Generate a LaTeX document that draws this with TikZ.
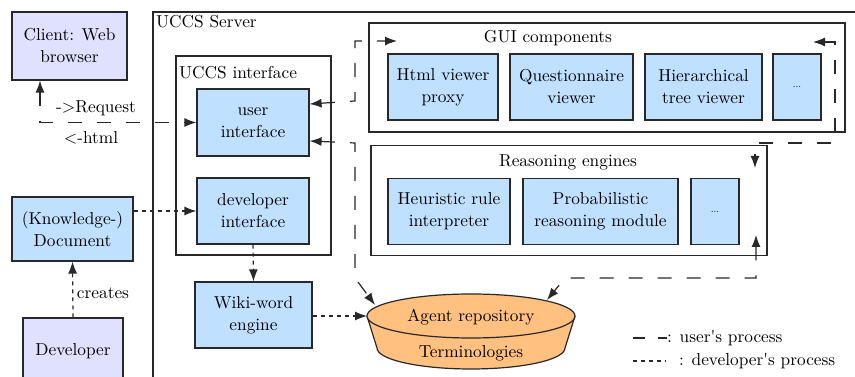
\documentclass[tikz,border=0pt]{standalone}
\usepackage{fontspec}
\newfontfamily\lmten{lmroman10-regular.otf}
\usetikzlibrary{arrows.meta,calc}
\definecolor{lav}{RGB}{224,224,255}
\definecolor{lblue}{RGB}{192,224,255}
\definecolor{orng}{RGB}{255,192,128}
\definecolor{ink}{RGB}{40,40,40}
\begin{document}
\begin{tikzpicture}[x=1pt,y=1pt,
  font={\lmten\fontsize{17.3}{22}\selectfont},
  >={Latex[length=12pt,width=9pt]},
  box/.style={draw=ink, line width=1.2pt, align=center, inner sep=0pt},
  bluebox/.style={box, fill=lblue},
  lavbox/.style={box, fill=lav},
  frame/.style={draw=ink, line width=1.2pt, inner sep=0pt},
  lbl/.style={inner sep=0pt},
  dotstext/.style={font={\lmten\fontsize{10}{12}\selectfont}},
  userflow/.style={draw=ink, line width=1.2pt, dash pattern=on 14pt off 15pt},
  devflow/.style={draw=ink, line width=1.2pt, dash pattern=on 4pt off 4pt},
  plain/.style={draw=ink, line width=1.2pt}
]
\useasboundingbox (0,0) rectangle (855,377);
\clip (0,0) rectangle (855,377);
\fill[white] (0,0) rectangle (855,377);

% containers
\node[frame, minimum width=727pt, minimum height=385pt] (server) at (516.5,172.5) {};
\node[lbl, anchor=west] (serverlbl) at (156,355) {UCCS Server};
\node[frame, minimum width=155pt, minimum height=199pt] (uif) at (253.5,221.5) {};
\node[lbl, anchor=west] (uiflbl) at (179,304) {UCCS interface};
\node[frame, minimum width=476pt, minimum height=109pt] (gui) at (607,299.5) {};
\node[lbl] (guilbl) at (548,339) {GUI components};
\node[frame, minimum width=396pt, minimum height=110pt] (reason) at (569,176.5) {};
\node[lbl] (reasonlbl) at (568,215) {Reasoning engines};

% boxes
\node[lavbox, minimum width=115pt, minimum height=68pt] (client) at (69.5,331) {Client: Web\\browser};
\node[bluebox, minimum width=112pt, minimum height=67pt] (ui) at (253,254.5) {user\\interface};
\node[bluebox, minimum width=112pt, minimum height=66pt] (di) at (253,166) {developer\\interface};
\node[bluebox, minimum width=117pt, minimum height=66pt] (wiki) at (253.5,62) {Wiki-word\\engine};
\node[bluebox, minimum width=121pt, minimum height=64pt] (know) at (72.5,148) {(Knowledge-)\\Document};
\node[lavbox, minimum width=100pt, minimum height=66pt] (dev) at (73,26) {Developer};
\node[bluebox, minimum width=110pt, minimum height=66pt] (html) at (443,290) {Html viewer\\proxy};
\node[bluebox, minimum width=123pt, minimum height=66pt] (quest) at (571.5,290) {Questionnaire\\viewer};
\node[bluebox, minimum width=117pt, minimum height=66pt] (hier) at (703.5,290) {Hierarchical\\tree viewer};
\node[bluebox, dotstext, minimum width=48pt, minimum height=66pt] (dotsa) at (797,290) {...};
\node[bluebox, minimum width=122pt, minimum height=66pt] (heur) at (449,165.5) {Heuristic rule\\interpreter};
\node[bluebox, minimum width=155pt, minimum height=66pt] (prob) at (600.5,165.5) {Probabilistic\\reasoning module};
\node[bluebox, dotstext, minimum width=48pt, minimum height=66pt] (dotsb) at (715,165.5) {...};

% repository cylinder
\fill[orng] (367,61) -- (377,29) arc[start angle=180,end angle=360,x radius=94pt,y radius=21pt] -- (575,61) -- cycle;
\draw[plain] (367,61) -- (377,29) arc[start angle=180,end angle=360,x radius=94pt,y radius=21pt] -- (575,61);
\draw[plain, fill=orng] (471,61) ellipse [x radius=104pt, y radius=22pt];
\node[lbl] (repotxt) at (471,60) {Agent repository};
\node[lbl] (termtxt) at (471,24) {Terminologies};
\coordinate (repoW) at (367,61);
\coordinate (repoNW) at (375,72);
\coordinate (repoNE) at (547,77);

% free ends
\coordinate (guiL) at (397,336);
\coordinate (guiR) at (813,335);
\coordinate (reasonT) at (755,209);
\coordinate (reasonB) at (756,142);

% developer's process
\draw[devflow,->] (know.east |- di.west) -- (di.west);
\draw[devflow,->] (dev.north) -- (know.south);
\draw[devflow,->] (di.south) -- (wiki.north);
\draw[devflow,->] (wiki.east |- repoW) -- (repoW);

% user's process
\draw[userflow,<->] ([xshift=-29.5pt]client.south) |- (ui.west);
\draw[userflow,<->] ([yshift=18.5pt]ui.east) -- (355,276) |- (guiL);
\draw[userflow,<->] (guiR) -| (835,234) -| (reasonT);
\draw[userflow,<->] ([yshift=-18.5pt]ui.east) -- (355,234) -- (355,99) -- (repoNW);
\draw[userflow,<->] (reasonB) |- (565,99) -- (repoNE);

% connector labels
\node[lbl] (reqlbl) at (96,269) {->Request};
\node[lbl] (htmllbl) at (91,239) {<-html};
\node[lbl] (createslbl) at (103,84) {creates};

% legend
\coordinate (lgA) at (633,39);
\coordinate (lgB) at (645,39);
\coordinate (lgC) at (658,39);
\coordinate (lgD) at (667,39);
\draw[plain] (lgA) -- (lgB);
\draw[plain] (lgC) -- (lgD);
\node[lbl, anchor=west] (lgutxt) at (667,39) {: user's process};
\coordinate (lgE) at (633,16);
\coordinate (lgF) at (666,16);
\draw[devflow] (lgE) -- (lgF);
\node[lbl, anchor=west] (lgdtxt) at (679,16) {: developer's process};
\end{tikzpicture}
\end{document}
